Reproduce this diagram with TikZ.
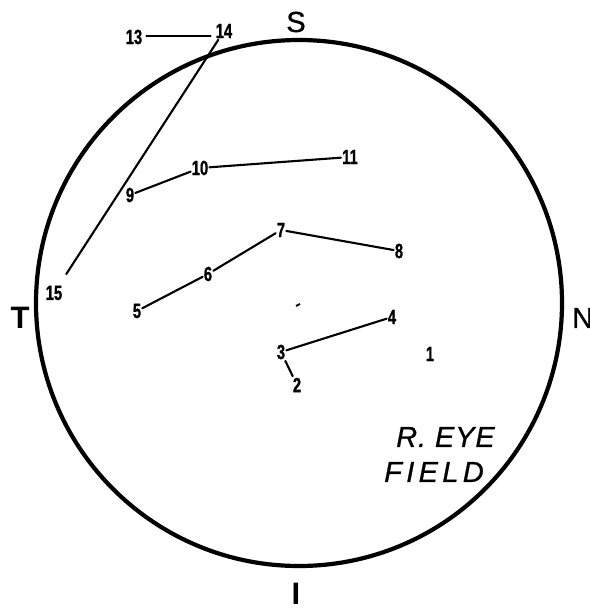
\documentclass[tikz,border=0pt]{standalone}
\usepackage{fontspec}
\setmainfont{Liberation Sans}
\begin{document}
\begin{tikzpicture}[x=1pt,y=-1pt,
  num/.style={font=\bfseries\fontsize{20.5}{22}\selectfont\addfontfeature{FakeBold=1.2}, xscale=0.72, inner sep=1.5pt},
  conn/.style={line width=2.1pt, line cap=round},
  dir/.style={font=\fontsize{29}{30}\selectfont\addfontfeature{FakeBold=0.8}, inner sep=0pt},
  dirb/.style={font=\bfseries\fontsize{31}{32}\selectfont, inner sep=0pt},
  eye/.style={inner sep=0pt, anchor=west}]
\useasboundingbox (0,0) rectangle (589,610);
\fill[white] (0,0) rectangle (589,610);
% field boundary
\draw[line width=4.2pt] (299,303) circle (263);
% direction labels
\node[dir] (S) at (296,22) {S};
\node[dirb] (T) at (20,318) {T};
\node[dir, anchor=west] (N) at (572,318) {N};
\node[dirb] (I) at (296,594) {I};
% numbered points
\node[num] (n1) at (430,354) {1};
\node[num] (n2) at (297,385) {2};
\node[num] (n3) at (281,352) {3};
\node[num] (n4) at (392,317) {4};
\node[num] (n5) at (137,311) {5};
\node[num] (n6) at (208,274) {6};
\node[num] (n7) at (281,230) {7};
\node[num] (n8) at (399,251) {8};
\node[num] (n9) at (130,195) {9};
\node[num] (n10) at (200,168) {10};
\node[num] (n11) at (350,157) {11};
\node[num] (n13) at (134,37) {13};
\node[num] (n14) at (224,31) {14};
\node[num] (n15) at (54,293) {15};
% connectors
\draw[conn, shorten <=3pt, shorten >=4pt] ([yshift=1pt]n13.east) -- ([yshift=1pt]n13.east -| n14.west);
\draw[conn, shorten >=12pt] (n14) -- (n15);
\draw[conn] (n9) -- (n10);
\draw[conn] (n10) -- (n11);
\draw[conn] (n5) -- (n6);
\draw[conn] (n6) -- (n7);
\draw[conn] (n7) -- (n8);
\draw[conn] (n3) -- (n4);
\draw[conn] (n3) -- (n2);
% stray mark
\draw[line width=1.8pt] (296,306) -- (300,304);
% caption
\node[eye, font=\itshape\fontsize{29}{30}\selectfont\addfontfeature{FakeBold=0.8,LetterSpace=3}] (r) at (396,437) {R. EYE};
\node[eye, font=\itshape\fontsize{29}{30}\selectfont\addfontfeature{FakeBold=0.8,LetterSpace=15}] (f) at (384,472) {FIELD};
\end{tikzpicture}
\end{document}
